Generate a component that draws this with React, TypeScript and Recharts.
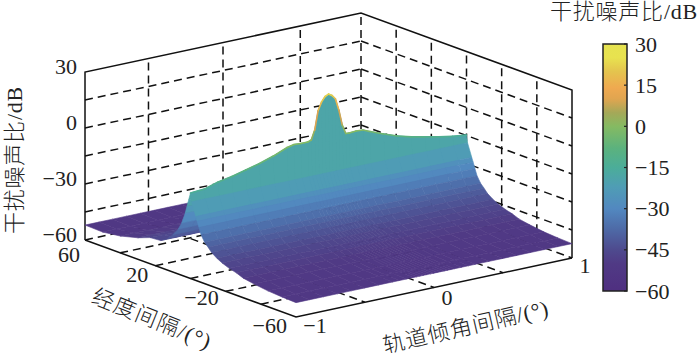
import { BarChart, Bar, ComposedChart, Scatter, XAxis, YAxis } from 'recharts';

// z (dB) read along the ridge at longitude 0, one value per inclination
const incGrid = [
  -1, -0.9, -0.8, -0.7, -0.6, -0.5, -0.4, -0.3, -0.25, -0.2, -0.15, -0.125, -0.1, -0.075, -0.05, -0.025,
  0, 0.025, 0.05, 0.075, 0.1, 0.125, 0.15, 0.2, 0.25, 0.3, 0.4, 0.5, 0.6, 0.7, 0.8, 0.9, 1,
];
const ridgeZ = [
  -14.2, -13.7, -11.5, -10.1, -8.2, -6.3, -3.9, -0.9, -0.05, -0.3, -0.3, 0.4, 5.3, 15.4, 19.6, 22.1,
  23, 21.9, 19.7, 13.3, 4.8, -0.1, -0.2, 0.05, -0.2, -1.8, -4.7, -7.4, -9.4, -11, -12.6, -13.9, -14.7,
];

// rows behind the ridge, far to near
const rearLon = [60, 50, 40, 30, 23, 17, 13, 10, 7, 5, 3, 2, 1];
const rearZ = [-52, -52.3, -51, -48.5, -46, -45.5, -43, -40, -36, -32, -26, -22, -18];

// rows in front of the ridge, near the ridge to the front edge
const frontLon = [-0.6, -3, -3.8, -4.8, -6, -8, -10, -12, -15, -18, -22, -26, -30, -36, -44, -52, -60];
const frontZ = [-18.7, -25.7, -28, -31, -34.5, -37.8, -39.8, -42, -44, -45.5, -47, -48, -49.5, -50.5, -51.5, -52, -52.3];

const lonGridTicks = [60, 40, 20, 0, -20, -40, -60];
const lonLabels = [60, 20, -20, -60];
const incFloorTicks = [-1, -0.5, 0, 0.5, 1];
const incWallTicks = [-0.54, 0, 0.56];
const incLabels = [-1, 0, 1];
const zGridTicks = [30, 15, 0, -15, -30, -45, -60];
const zLabels = [30, 0, -30, -60];
const colorbarTicks = [30, 15, 0, -15, -30, -45, -60];

const colorLevels = [-60, -50, -45, -37, -30, -22, -15, -8, 0, 5, 10, 14, 20, 25, 30];
const colorValues = [
  '#4f2f80', '#503a85', '#4e4a8e', '#4e6ca8', '#5288c0', '#4f9db5', '#4bad99', '#5bb27e',
  '#85ba62', '#a5a858', '#e0a550', '#efa950', '#e4c44e', '#e8e24f', '#e6e350',
];

const FONT = '"Liberation Serif","Noto Sans CJK SC",serif';
const WIDTH = 700;
const HEIGHT = 353;

// orthographic view of the box, chart units are page pixels
const project = (lon: number, inc: number, z: number) => ({
  x: 296 - 1.7583 * (lon + 60) + 138 * (inc + 1),
  y: 317 - 0.6417 * (lon + 60) - 29.5 * (inc + 1) - 1.8667 * (z + 60),
});

const hex = (c: string) => [1, 3, 5].map((i) => parseInt(c.slice(i, i + 2), 16));

function colorAt(z: number): string {
  let i = 0;
  while (i < colorLevels.length - 2 && z > colorLevels[i + 1]) i++;
  const t = Math.max(0, Math.min(1, (z - colorLevels[i]) / (colorLevels[i + 1] - colorLevels[i])));
  const a = hex(colorValues[i]);
  const b = hex(colorValues[i + 1]);
  return `rgb(${a.map((v, k) => Math.round(v + (b[k] - v) * t)).join(',')})`;
}

type Row = { lon: number; z: number[] };
const flat = (v: number) => incGrid.map(() => v);
const rows: Row[] = [
  ...rearLon.map((lon, i) => ({ lon, z: flat(rearZ[i]) })),
  { lon: 0, z: ridgeZ },
];
const frontRows: Row[] = frontLon.map((lon, i) => ({ lon, z: flat(frontZ[i]) }));

// cells are painted back to front, coloured from the row that is not the ridge
function buildCells(seq: Row[]) {
  const cells: { x: number; y: number; poly: string; fill: string }[] = [];
  for (let r = 0; r < seq.length - 1; r++) {
    const a = seq[r];
    const b = seq[r + 1];
    for (let c = incGrid.length - 2; c >= 0; c--) {
      const pts = [
        project(a.lon, incGrid[c], a.z[c]),
        project(a.lon, incGrid[c + 1], a.z[c + 1]),
        project(b.lon, incGrid[c + 1], b.z[c + 1]),
        project(b.lon, incGrid[c], b.z[c]),
      ];
      const cz = a.lon === 0 ? b.z[c] : b.lon === 0 ? a.z[c] : (a.z[c] + b.z[c]) / 2;
      const o = pts[0];
      cells.push({
        x: o.x,
        y: o.y,
        poly: pts.map((p) => `${p.x - o.x},${p.y - o.y}`).join(' '),
        fill: colorAt(cz),
      });
    }
  }
  return cells;
}

const rearCells = buildCells(rows);
const frontCells = buildCells([{ lon: 0, z: ridgeZ }, ...frontRows]);

const ridgeLine = incGrid.slice(0, -1).map((inc, i) => {
  const p = project(0, inc, ridgeZ[i]);
  const q = project(0, incGrid[i + 1], ridgeZ[i + 1]);
  return { x: p.x, y: p.y, dx: q.x - p.x, dy: q.y - p.y, stroke: colorAt((ridgeZ[i] + ridgeZ[i + 1]) / 2) };
});

const seg = (a: { x: number; y: number }, b: { x: number; y: number }) => [a, b];

const dashedLines = [
  // left wall
  ...zGridTicks.slice(1).map((z) => seg(project(60, -1, z), project(60, 1, z))),
  ...incWallTicks.map((i) => seg(project(60, i, -60), project(60, i, 30))),
  seg(project(60, 1, -60), project(60, 1, 30)),
  // right wall
  ...zGridTicks.slice(1).map((z) => seg(project(60, 1, z), project(-60, 1, z))),
  ...lonGridTicks.slice(1, -1).map((l) => seg(project(l, 1, -60), project(l, 1, 30))),
  // floor
  ...lonGridTicks.slice(1, -1).map((l) => seg(project(l, -1, -60), project(l, 1, -60))),
  ...incFloorTicks.slice(1, -1).map((i) => seg(project(60, i, -60), project(-60, i, -60))),
];

const solidLines = [
  [project(60, -1, -60), project(60, -1, 30), project(60, 1, 30), project(-60, 1, 30), project(-60, 1, -60)],
  [project(60, -1, -60), project(-60, -1, -60), project(-60, 1, -60)],
];

const minus = (v: number) => String(v).replace('-', '\u2212');

const noDot = () => <g />;
const polyShape = (p: any) => (
  <polygon
    transform={`translate(${p.cx},${p.cy})`}
    points={p.payload.poly}
    fill={p.payload.fill}
    stroke={p.payload.fill}
    strokeWidth={0.6}
  />
);
const ridgeShape = (p: any) => (
  <line
    x1={p.cx}
    y1={p.cy}
    x2={p.cx + p.payload.dx}
    y2={p.cy + p.payload.dy}
    stroke={p.payload.stroke}
    strokeWidth={1.6}
    strokeLinecap="round"
  />
);

const textShape = (label: string, anchor: string, spacing: number, angle = 0) => (p: any) => (
  <text
    x={p.cx}
    y={p.cy}
    textAnchor={anchor as any}
    dominantBaseline="central"
    fontFamily={FONT}
    fontSize={22}
    fontWeight={300}
    letterSpacing={spacing}
    fill="#222"
    transform={angle ? `rotate(${angle} ${p.cx} ${p.cy})` : undefined}
  >
    {label}
  </text>
);

const lonLabelShift = [
  [-5, 15],
  [-7, 9],
  [-7, 6.5],
  [-9, 8],
];
const incLabelShift = [
  [19, 8],
  [13, 9.5],
  [13, 7],
];

const texts = [
  ...zLabels.map((z) => {
    const p = project(60, -1, z);
    return { x: p.x - 8, y: p.y - 5, label: minus(z), anchor: 'end', spacing: 0, angle: 0 };
  }),
  ...lonLabels.map((l, i) => {
    const p = project(l, -1, -60);
    return { x: p.x + lonLabelShift[i][0], y: p.y + lonLabelShift[i][1], label: minus(l), anchor: 'end', spacing: 0, angle: 0 };
  }),
  ...incLabels.map((v, i) => {
    const p = project(-60, v, -60);
    return { x: p.x + incLabelShift[i][0], y: p.y + incLabelShift[i][1], label: minus(v), anchor: 'middle', spacing: 0, angle: 0 };
  }),
  { x: 14, y: 160, label: '干扰噪声比/dB', anchor: 'middle', spacing: 0.8, angle: -90 },
  { x: 152, y: 319, label: '经度间隔/(°)', anchor: 'middle', spacing: 1.2, angle: 22 },
  { x: 466, y: 327, label: '轨道倾角间隔/(°)', anchor: 'middle', spacing: 0.8, angle: -13 },
  { x: 624, y: 11, label: '干扰噪声比/dB', anchor: 'middle', spacing: 0.8, angle: 0 },
];

const colorbarData = [{ name: 'snr', range: [-60, 30] }];

const ColorbarTick = (p: any) => (
  <g>
    <line x1={p.x - 11} x2={p.x - 8} y1={p.y} y2={p.y} stroke="#222" strokeWidth={1.2} />
    <text x={p.x} y={p.y} dominantBaseline="central" fontFamily={FONT} fontSize={22} fill="#222">
      {minus(p.payload.value)}
    </text>
  </g>
);

export default function App() {
  return (
    <div style={{ position: 'absolute', left: 0, top: 0, width: WIDTH, height: HEIGHT, background: '#fff' }}>
      <ComposedChart width={WIDTH} height={HEIGHT} margin={{ top: 0, right: 0, bottom: 0, left: 0 }}>
        <XAxis type="number" dataKey="x" domain={[0, WIDTH]} hide />
        <YAxis type="number" dataKey="y" domain={[0, HEIGHT]} reversed hide />
        {dashedLines.map((d, i) => (
          <Scatter
            key={`dash-${i}`}
            data={d}
            line={{ stroke: '#111', strokeWidth: 1.5, strokeDasharray: '8 5' }}
            shape={noDot}
            isAnimationActive={false}
          />
        ))}
        {solidLines.map((d, i) => (
          <Scatter
            key={`box-${i}`}
            data={d}
            line={{ stroke: '#111', strokeWidth: 1.5 }}
            shape={noDot}
            isAnimationActive={false}
          />
        ))}
        <Scatter data={rearCells} shape={polyShape} isAnimationActive={false} />
        <Scatter data={frontCells} shape={polyShape} isAnimationActive={false} />
        <Scatter data={ridgeLine} shape={ridgeShape} isAnimationActive={false} />
        {texts.map((t, i) => (
          <Scatter
            key={`text-${i}`}
            data={[{ x: t.x, y: t.y }]}
            shape={textShape(t.label, t.anchor, t.spacing, t.angle)}
            isAnimationActive={false}
          />
        ))}
      </ComposedChart>
      <div style={{ position: 'absolute', left: 600, top: 0 }}>
        <BarChart
          width={100}
          height={HEIGHT}
          data={colorbarData}
          barCategoryGap={0}
          margin={{ top: 44, right: 0, bottom: 62, left: 3 }}
        >
          <defs>
            <linearGradient id="colorbarFill" x1="0" y1="1" x2="0" y2="0">
              {colorLevels.map((z, i) => (
                <stop key={z} offset={(z + 60) / 90} stopColor={colorValues[i]} />
              ))}
            </linearGradient>
          </defs>
          <XAxis dataKey="name" hide />
          <YAxis
            orientation="right"
            type="number"
            domain={[-60, 30]}
            ticks={colorbarTicks}
            width={73}
            axisLine={false}
            tickLine={false}
            tickSize={0}
            tickMargin={8}
            interval={0}
            tick={ColorbarTick}
          />
          <Bar dataKey="range" fill="url(#colorbarFill)" stroke="#222" strokeWidth={1.5} isAnimationActive={false} />
        </BarChart>
      </div>
    </div>
  );
}
